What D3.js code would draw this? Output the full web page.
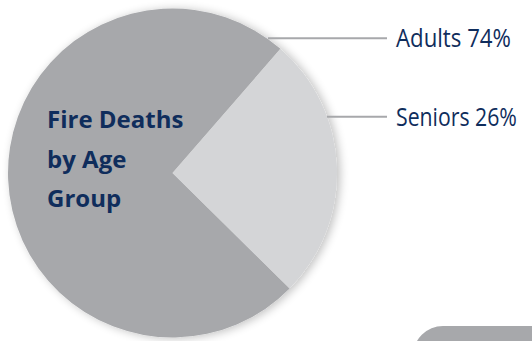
<!DOCTYPE html>
<html><head><meta charset="utf-8">
<script src="https://cdn.jsdelivr.net/npm/d3@7"></script>
<style>html,body{margin:0;padding:0;background:#fff;}svg{display:block;}</style>
</head><body>
<script>
const categories = ["Adults", "Seniors"];
const values = [74, 26];
const labels = ["Adults 74%", "Seniors 26%"];
const titleLines = ["Fire Deaths", "by Age", "Group"];

const W = 532, H = 341;
const svg = d3.select("body").append("svg").attr("width", W).attr("height", H);
const defs = svg.append("defs");
const f = defs.append("filter").attr("id","sh").attr("x","-20%").attr("y","-20%").attr("width","140%").attr("height","140%");
f.append("feGaussianBlur").attr("in","SourceAlpha").attr("stdDeviation",5);
f.append("feOffset").attr("dx",3).attr("dy",1).attr("result","b");
f.append("feComponentTransfer").append("feFuncA").attr("type","linear").attr("slope",0.25);
const m = f.append("feMerge"); m.append("feMergeNode"); m.append("feMergeNode").attr("in","SourceGraphic");

const cx = 172.5, cy = 173, r = 164.5;
const color = d3.scaleOrdinal().domain(categories).range(["#a7a8ab", "#d4d5d7"]);
const start = 41 * Math.PI / 180;
const pie = d3.pie().sort(null).value(d => d.v)
  .startAngle(start - 2 * Math.PI * values[0] / 100).endAngle(start + 2 * Math.PI * values[1] / 100);
const data = categories.map((c, i) => ({c, v: values[i], label: labels[i]}));
const arcs = pie(data);
const arc = d3.arc().innerRadius(0).outerRadius(r);
const g = svg.append("g").attr("transform", `translate(${cx},${cy})`).attr("filter","url(#sh)");
g.selectAll("path").data(arcs).join("path").attr("d", arc).attr("fill", d => color(d.data.c));

// leader lines
const labelY = [38.3, 116.8];
const lineStart = [268, 327];
const labelW = [115, 121];
const lineEnd = 387;
arcs.forEach((a, i) => {
  const y = labelY[i];
  svg.append("line").attr("x1", lineStart[i]).attr("x2", lineEnd)
    .attr("y1", y).attr("y2", y).attr("stroke", "#a7a8ab").attr("stroke-width", 2);
  const t = svg.append("text").attr("x", 0).attr("y", 0).text(a.data.label)
    .attr("font-family", "'Open Sans', sans-serif").attr("font-size", 25)
    .attr("fill", "#0f2d5c");
  const nat = t.node().getComputedTextLength();
  t.attr("transform", `translate(396,${y + 8.7}) scale(${labelW[i] / nat},1)`);
});

svg.append("g").selectAll("text").data(titleLines).join("text")
  .attr("x", 47).attr("y", (d, i) => [128, 167.5, 207][i]).text(d => d)
  .attr("font-family", "'Open Sans', sans-serif").attr("font-weight", 700).attr("font-size", 24)
  .attr("fill", "#0f2d5c");

svg.append("rect").attr("x", 413).attr("y", 326).attr("width", 160).attr("height", 60)
  .attr("rx", 30).attr("fill", "#a7a8ab");
</script>
</body></html>
